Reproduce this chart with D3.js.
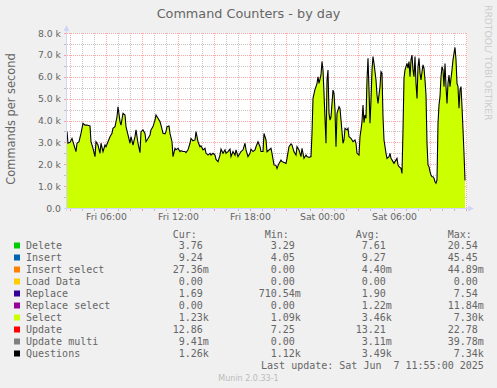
<!DOCTYPE html>
<html>
<head>
<meta charset="utf-8">
<script src="https://cdn.jsdelivr.net/npm/d3@7"></script>
<style>
body{margin:0;background:#f0f0f0;}
svg text{font-family:"DejaVu Sans",sans-serif;fill:#666;}
svg text.mono{font-family:"DejaVu Sans Mono",monospace;font-size:10px;white-space:pre;}
</style>
</head>
<body>
<svg id="chart" width="497" height="388"></svg>
<script>
// minutes after Fri Jun 6 2025 02:45 (local)
var sampleMin = [
  0,5,15,25,30,45,50,60,70,80,
  90,100,115,120,130,140,145,155,165,170,
  180,190,195,205,215,225,230,240,250,255,
  265,270,280,290,295,305,315,320,330,340,
  345,355,365,370,380,390,395,405,415,420,
  430,440,445,455,465,470,480,490,495,500,
  510,515,525,530,540,545,555,565,570,580,
  590,595,605,615,620,630,640,645,655,665,
  670,680,690,695,705,715,720,730,740,745,
  755,765,770,780,790,795,805,815,820,830,
  840,845,855,865,870,880,890,895,905,915,
  920,930,940,945,955,965,970,980,985,995,
  1000,1010,1020,1025,1035,1045,1050,1060,1070,1075,
  1085,1095,1100,1110,1120,1125,1135,1145,1150,1160,
  1170,1175,1185,1195,1200,1210,1220,1225,1230,1240,
  1245,1250,1255,1260,1270,1275,1280,1285,1295,1300,
  1305,1310,1315,1320,1330,1335,1340,1345,1350,1360,
  1365,1370,1380,1385,1390,1400,1405,1410,1420,1425,
  1430,1440,1445,1450,1460,1465,1470,1475,1480,1485,
  1490,1495,1500,1505,1510,1515,1520,1525,1530,1535,
  1545,1550,1555,1565,1570,1575,1580,1585,1595,1600,
  1610,1615,1620,1630,1635,1640,1650,1655,1660,1670,
  1675,1680,1685,1690,1695,1700,1705,1710,1715,1720,
  1725,1730,1735,1740,1745,1750,1755,1760,1765,1770,
  1775,1780,1785,1790,1795,1800,1805,1810,1815,1820,
  1825,1830,1835,1840,1845,1850,1855,1860,1865,1870,
  1875,1880,1885,1890,1895,1900,1905,1910,1915,1920,
  1925,1930,1935,1940,1945,1950,1955,1960,1965,1970,
  1975,1980,1985,1990
];

// Questions per second, in thousands
var questionsK = [
  3.49,2.96,3.00,3.18,3.03,2.58,2.96,3.03,3.41,3.87,
  3.79,3.79,3.75,3.03,2.73,2.35,3.03,2.88,2.50,2.96,
  2.58,2.88,2.80,3.03,3.26,3.41,3.64,3.72,4.17,4.63,
  3.95,3.79,4.33,4.25,3.72,3.34,2.96,3.26,2.88,3.26,
  3.57,2.96,2.53,3.49,3.57,3.41,3.03,3.18,3.34,3.57,
  3.72,4.02,4.25,4.10,3.95,3.79,3.41,3.39,3.49,3.72,
  3.75,3.41,3.03,2.35,2.73,2.66,2.73,2.58,2.62,2.58,
  2.58,2.53,2.66,2.96,3.18,3.07,3.11,3.49,3.03,2.80,
  2.84,2.66,2.73,2.50,2.42,2.50,2.42,2.50,2.42,2.22,
  2.12,2.42,2.69,2.50,2.66,2.50,2.58,2.69,2.35,2.58,
  2.42,2.66,2.35,2.50,2.58,2.66,2.96,2.66,2.35,2.50,
  2.69,2.58,2.66,2.80,3.03,2.80,2.58,2.58,3.41,3.11,
  2.57,2.65,2.73,2.50,1.97,1.94,1.81,2.04,2.19,2.12,
  2.08,2.04,2.27,2.80,2.93,2.88,2.57,2.42,2.80,2.65,
  2.35,2.73,2.27,2.42,2.35,2.31,2.35,3.41,5.01,5.42,
  5.55,5.70,6.00,5.70,6.08,6.69,6.31,5.24,2.96,5.85,
  6.31,4.33,4.02,4.17,5.39,5.24,4.48,2.80,4.33,4.63,
  4.55,4.02,2.96,3.11,3.64,3.57,3.64,3.26,3.18,3.11,
  3.03,3.11,2.96,2.50,2.42,3.26,3.57,3.95,4.71,3.90,
  4.25,4.10,5.85,6.84,5.39,3.87,4.94,6.31,6.92,6.61,
  5.85,5.17,4.78,5.55,6.23,6.16,4.17,3.11,2.50,2.27,
  2.35,2.50,2.27,2.12,2.04,2.12,2.27,1.97,1.89,1.81,
  1.58,3.57,5.93,6.31,6.46,6.61,6.39,6.69,6.00,6.77,
  6.99,6.31,6.00,6.92,5.70,5.01,6.46,6.84,6.16,5.85,
  6.23,6.54,6.39,5.85,5.17,2.96,1.97,1.89,1.66,1.51,
  1.43,1.43,1.36,1.20,1.13,1.28,3.87,4.71,5.09,6.00,
  6.46,6.31,5.55,6.61,5.55,4.78,5.70,6.08,5.55,5.93,
  6.31,6.77,7.07,7.34,6.77,5.70,5.55,4.56,5.39,5.55,
  4.63,3.60,2.50,1.26
];

// Select per second, in thousands
var selectK = [
  3.46,2.93,2.97,3.15,3.00,2.55,2.93,3.00,3.38,3.84,
  3.76,3.76,3.72,3.00,2.70,2.32,3.00,2.85,2.47,2.93,
  2.55,2.85,2.77,3.00,3.23,3.38,3.61,3.69,4.14,4.60,
  3.92,3.76,4.30,4.22,3.69,3.31,2.93,3.23,2.85,3.23,
  3.54,2.93,2.50,3.46,3.54,3.38,3.00,3.15,3.31,3.54,
  3.69,3.99,4.22,4.07,3.92,3.76,3.38,3.36,3.46,3.69,
  3.72,3.38,3.00,2.32,2.70,2.63,2.70,2.55,2.59,2.55,
  2.55,2.50,2.63,2.93,3.15,3.04,3.08,3.46,3.00,2.77,
  2.81,2.63,2.70,2.47,2.39,2.47,2.39,2.47,2.39,2.19,
  2.09,2.39,2.66,2.47,2.63,2.47,2.55,2.66,2.32,2.55,
  2.39,2.63,2.32,2.47,2.55,2.63,2.93,2.63,2.32,2.47,
  2.66,2.55,2.63,2.77,3.00,2.77,2.55,2.55,3.38,3.08,
  2.54,2.62,2.70,2.47,1.94,1.91,1.78,2.01,2.16,2.09,
  2.05,2.01,2.24,2.77,2.90,2.85,2.54,2.39,2.77,2.62,
  2.32,2.70,2.24,2.39,2.32,2.28,2.32,3.38,4.98,5.39,
  5.52,5.67,5.97,5.67,6.05,6.66,6.28,5.21,2.93,5.82,
  6.28,4.30,3.99,4.14,5.36,5.21,4.45,2.77,4.30,4.60,
  4.52,3.99,2.93,3.08,3.61,3.54,3.61,3.23,3.15,3.08,
  3.00,3.08,2.93,2.47,2.39,3.23,3.54,3.92,4.68,3.87,
  4.22,4.07,5.82,6.81,5.36,3.84,4.91,6.28,6.89,6.58,
  5.82,5.14,4.75,5.52,6.20,6.13,4.14,3.08,2.47,2.24,
  2.32,2.47,2.24,2.09,2.01,2.09,2.24,1.94,1.86,1.78,
  1.55,3.54,5.90,6.28,6.43,6.58,6.36,6.66,5.97,6.74,
  6.96,6.28,5.97,6.89,5.67,4.98,6.43,6.81,6.13,5.82,
  6.20,6.51,6.36,5.82,5.14,2.93,1.94,1.86,1.63,1.48,
  1.40,1.40,1.33,1.17,1.10,1.25,3.84,4.68,5.06,5.97,
  6.43,6.28,5.52,6.58,5.52,4.75,5.67,6.05,5.52,5.90,
  6.28,6.74,7.04,7.30,6.74,5.67,5.52,4.53,5.36,5.52,
  4.60,3.57,2.47,1.23
];

var yTicks = [0,1000,2000,3000,4000,5000,6000,7000,8000];
var yTickLabels = ["0.0","1.0 k","2.0 k","3.0 k","4.0 k","5.0 k","6.0 k","7.0 k","8.0 k"];

var legendNames = ["Delete","Insert","Insert select","Load Data","Replace","Replace select","Select","Update","Update multi","Questions"];
var legendColors = ["#00cc00","#0066b3","#ff8000","#ffcc00","#330099","#990099","#ccff00","#ff0000","#808080","#000000"];
var curVals = ["3.76","9.24","27.36m","0.00","1.69","0.00","1.23k","12.86","9.41m","1.26k"];
var minVals = ["3.29","4.05","0.00","0.00","710.54m","0.00","1.09k","7.25","0.00","1.12k"];
var avgVals = ["7.61","9.27","4.40m","0.00","1.90","1.22m","3.46k","13.21","3.11m","3.49k"];
var maxVals = ["20.54","45.45","44.89m","0.00","7.54","11.84m","7.30k","22.78","39.78m","7.34k"];
var colHeads = ["Cur:","Min:","Avg:","Max:"];

var svg = d3.select("#chart");
var plotL = 67, plotR = 467, plotT = 33, plotB = 208;
var t0 = new Date(2025,5,6,2,45), t1 = new Date(2025,5,7,12,5);

var x = d3.scaleTime().domain([t0,t1]).range([plotL,plotR]);
var y = d3.scaleLinear().domain([0,8000]).range([plotB,plotT]);

var data = sampleMin.map(function(m,i){
    return {t: d3.timeMinute.offset(t0,m), q: questionsK[i]*1000, s: selectK[i]*1000};
});

svg.append("rect").attr("width",497).attr("height",388).attr("fill","#f0f0f0");
svg.append("rect").attr("x",plotL).attr("y",plotT).attr("width",plotR-plotL).attr("height",plotB-plotT).attr("fill","#ffffff");

// grid
var hours = x.ticks(d3.timeHour.every(1));
var majorH = hours.filter(function(d){return d.getHours()%3==0});
var minorH = hours.filter(function(d){return d.getHours()%3!=0});
var minorV = d3.range(500,8000,1000);
var grid = svg.append("g");
var minorCol = "rgba(150,150,150,0.55)", majorCol = "rgba(255,60,60,0.45)";

function vline(d,col){
    var px = Math.round(x(d))+0.5;
    grid.append("line").attr("x1",px).attr("x2",px).attr("y1",plotT).attr("y2",plotB)
        .attr("stroke",col).attr("stroke-dasharray","1,1");
    grid.append("line").attr("x1",px).attr("x2",px).attr("y1",plotB).attr("y2",plotB+3).attr("stroke",col);
}
function hline(v,col){
    var py = Math.round(y(v))+0.5;
    grid.append("line").attr("x1",plotL).attr("x2",plotR).attr("y1",py).attr("y2",py)
        .attr("stroke",col).attr("stroke-dasharray","1,1");
    grid.append("line").attr("x1",plotL-3).attr("x2",plotL).attr("y1",py).attr("y2",py).attr("stroke",col);
}
minorH.forEach(function(d){vline(d,minorCol)});
minorV.forEach(function(v){hline(v,minorCol)});
majorH.forEach(function(d){vline(d,majorCol)});
yTicks.forEach(function(v){ if(v>0) hline(v,majorCol) });

// select area and questions line
var area = d3.area().x(function(d){return x(d.t)}).y0(plotB).y1(function(d){return y(d.s)});
svg.append("path").datum(data).attr("d",area).attr("fill","#ccff00");
var line = d3.line().x(function(d){return x(d.t)}).y(function(d){return y(d.q)});
svg.append("path").datum(data).attr("d",line).attr("fill","none").attr("stroke","#000").attr("stroke-width",1.1);

// axes (munin AXIS colour)
var axCol = "#cfd6f8";
svg.append("line").attr("x1",plotL-0.5).attr("x2",plotL-0.5).attr("y1",plotB+3).attr("y2",28).attr("stroke",axCol);
svg.append("line").attr("x1",plotL-3).attr("x2",470).attr("y1",plotB+0.5).attr("y2",plotB+0.5).attr("stroke",axCol);
svg.append("path").attr("d","M66.5,25L63.5,31L69.5,31Z").attr("fill",axCol);
svg.append("path").attr("d","M474,208.5L468,205.5L468,211.5Z").attr("fill",axCol);

// y labels
svg.selectAll(".ylab").data(yTicks).enter().append("text")
    .attr("x",61).attr("y",function(d){return y(d)+3.5})
    .attr("text-anchor","end").style("font-size","9.3px")
    .text(function(d,i){return yTickLabels[i]});

// x labels (only those that fit inside the plot)
var fmt = d3.timeFormat("%a %H:%M");
var labelTimes = x.ticks(d3.timeHour.every(6)).filter(function(d){return x(d) < plotR-20});
svg.selectAll(".xlab").data(labelTimes).enter().append("text")
    .attr("x",function(d){return Math.round(x(d))+0.5}).attr("y",219.5)
    .attr("text-anchor","middle").style("font-size","9.3px")
    .text(function(d){return fmt(d)});

// titles
svg.append("text").attr("x",248.5).attr("y",18.3).attr("text-anchor","middle")
    .style("font-size","12.8px").text("Command Counters - by day");
svg.append("text").attr("transform","translate(14.5,119) rotate(-90)").attr("text-anchor","middle")
    .style("font-size","11.4px").text("Commands per second");
svg.append("text").attr("transform","translate(485,5) rotate(90)")
    .style("font-size","9.2px").style("fill","#cccccc").text("RRDTOOL/ TOBI OETIKER");

// legend
var cw = 6.02, colEnd = [208.8,300.8,391.8,483.8];
var cols = [curVals,minVals,avgVals,maxVals];
colHeads.forEach(function(h,j){
    svg.append("text").attr("class","mono").attr("x",colEnd[j]-6*cw).attr("y",237.5).text(h);
});
legendNames.forEach(function(name,i){
    var by = 249 + i*12;
    svg.append("rect").attr("x",14).attr("y",by-6.5).attr("width",6).attr("height",6).attr("fill",legendColors[i]);
    svg.append("text").attr("class","mono").attr("x",26).attr("y",by).text(name);
    cols.forEach(function(vals,j){
        var v = vals[i];
        var suffix = /[mk]$/.test(v);
        svg.append("text").attr("class","mono").attr("text-anchor","end")
            .attr("x",colEnd[j]-(suffix?0:cw)).attr("y",by).text(v);
    });
});
svg.append("text").attr("class","mono").attr("xml:space","preserve").attr("text-anchor","end")
    .attr("x",483.8).attr("y",369).text("Last update: Sat Jun  7 11:55:00 2025");
svg.append("text").attr("x",248.5).attr("y",380.5).attr("text-anchor","middle")
    .style("font-size","8px").style("fill","#bbbbbb").text("Munin 2.0.33-1");
</script>
</body>
</html>
